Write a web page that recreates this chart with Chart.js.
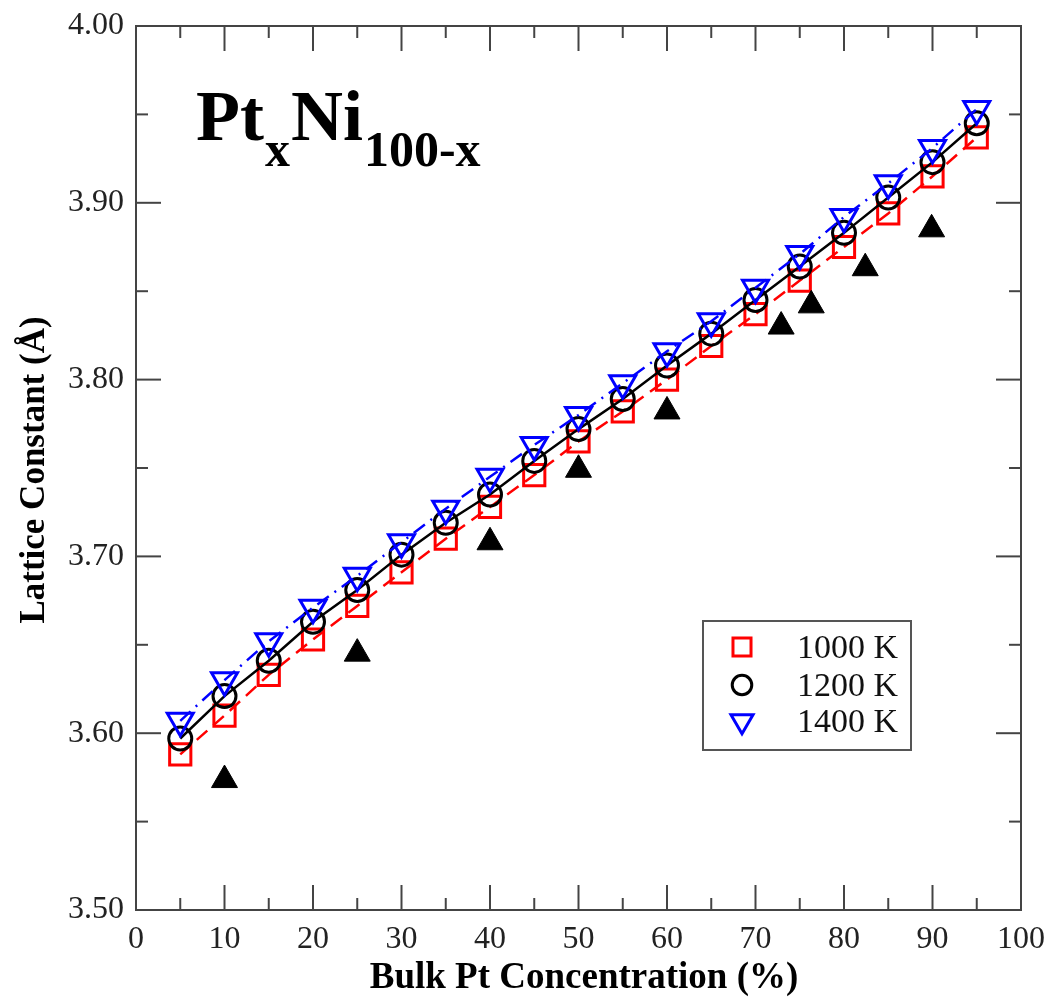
<!DOCTYPE html>
<html>
<head>
<meta charset="utf-8">
<script src="https://cdn.jsdelivr.net/npm/chart.js@4.4.1/dist/chart.umd.min.js"></script>
<style>
html, body { margin: 0; padding: 0; background: #fff; }
</style>
</head>
<body>
<canvas id="grafico" width="1052" height="998"></canvas>
<script>
// Pt concentration (%) for the simulated points
const concentracion = [5, 10, 15, 20, 25, 30, 35, 40, 45, 50, 55, 60, 65, 70, 75, 80, 85, 90, 95];
const k1000 = [3.588, 3.610, 3.633, 3.653, 3.672, 3.691, 3.710, 3.728, 3.746, 3.765, 3.782, 3.800, 3.819, 3.837, 3.856, 3.875, 3.894, 3.915, 3.937];
const k1200 = [3.597, 3.621, 3.641, 3.663, 3.681, 3.701, 3.719, 3.735, 3.754, 3.772, 3.789, 3.808, 3.826, 3.845, 3.864, 3.883, 3.903, 3.923, 3.945];
const k1400 = [3.607, 3.630, 3.652, 3.671, 3.689, 3.708, 3.727, 3.745, 3.763, 3.780, 3.798, 3.816, 3.833, 3.852, 3.871, 3.892, 3.911, 3.931, 3.953];
// experimental values (filled triangles)
const expX = [10, 25, 40, 50, 60, 72.9, 76.3, 82.4, 89.9];
const expY = [3.5735, 3.645, 3.708, 3.749, 3.782, 3.830, 3.842, 3.863, 3.885];
// tick labels
const xTicks = [0, 10, 20, 30, 40, 50, 60, 70, 80, 90, 100];
const yTicks = ['3.50', '3.60', '3.70', '3.80', '3.90', '4.00'];
const leyenda = ['1000 K', '1200 K', '1400 K'];

const serif = '"Liberation Serif", "Times New Roman", serif';
const pts = (xs, ys) => xs.map((v, i) => ({ x: v, y: ys[i] }));

function linea(ctx, x1, y1, x2, y2) {
    ctx.beginPath(); ctx.moveTo(x1, y1); ctx.lineTo(x2, y2); ctx.stroke();
}

const marco = {
    id: 'marco',
    afterDraw(chart) {
        const { ctx, chartArea: a, scales: { x, y } } = chart;
        ctx.save();
        ctx.strokeStyle = '#444';
        ctx.lineWidth = 2;
        ctx.strokeRect(a.left, a.top, a.right - a.left, a.bottom - a.top);
        // inward ticks on all four sides
        for (let i = 0; i <= 20; i++) {
            const px = x.getPixelForValue(xTicks[0] + i * 5);
            const len = i % 2 === 0 ? 25 : 12;
            linea(ctx, px, a.bottom, px, a.bottom - len);
            linea(ctx, px, a.top, px, a.top + len);
        }
        for (let i = 0; i <= 10; i++) {
            const py = y.getPixelForValue(parseFloat(yTicks[0]) + i * 0.05);
            const len = i % 2 === 0 ? 25 : 12;
            linea(ctx, a.left, py, a.left + len, py);
            linea(ctx, a.right, py, a.right - len, py);
        }

        // axis titles
        ctx.fillStyle = '#000';
        ctx.textAlign = 'center';
        ctx.textBaseline = 'alphabetic';
        ctx.font = 'bold 37px ' + serif;
        ctx.fillText('Bulk Pt Concentration (%)', 584, 988);
        ctx.save();
        ctx.translate(44, 470);
        ctx.rotate(-Math.PI / 2);
        ctx.font = 'bold 35px ' + serif;
        ctx.fillText('Lattice Constant (Å)', 0, 0);
        ctx.restore();

        // PtxNi100-x label
        ctx.textAlign = 'left';
        let cx = 196;
        const partes = [['Pt', 72, 140], ['x', 50, 166], ['Ni', 72, 140], ['100-x', 50, 166]];
        partes.forEach(([t, s, b]) => {
            ctx.font = 'bold ' + s + 'px ' + serif;
            ctx.fillText(t, cx, b);
            cx += ctx.measureText(t).width + 1;
        });

        // legend box
        ctx.strokeStyle = '#555';
        ctx.lineWidth = 2;
        ctx.strokeRect(703, 621, 208, 129);
        ctx.font = '34px ' + serif;
        ctx.fillStyle = '#111';
        const ds = chart.data.datasets;
        const filas = [647, 685, 721];
        leyenda.forEach((t, i) => {
            const d = ds[i];
            ctx.strokeStyle = d.borderColor;
            ctx.fillStyle = 'rgba(0,0,0,0)';
            ctx.lineWidth = d.pointBorderWidth;
            Chart.helpers.drawPoint(ctx, {
                pointStyle: d.pointStyle, radius: d.pointRadius * 0.85,
                rotation: d.pointRotation || 0, borderWidth: d.pointBorderWidth
            }, 742, filas[i]);
            ctx.fillStyle = '#111';
            ctx.fillText(t, 797, filas[i] + 11);
        });
        ctx.restore();
    }
};

const ctx = document.getElementById('grafico').getContext('2d');
const chart = new Chart(ctx, {
    type: 'scatter',
    data: {
        datasets: [
            {
                label: leyenda[0],
                data: pts(concentracion, k1000),
                showLine: true,
                borderColor: '#ff0000',
                backgroundColor: 'rgba(0,0,0,0)',
                borderWidth: 2.5,
                borderDash: [14, 8],
                pointStyle: 'rect',
                pointRadius: 15,
                pointBorderWidth: 3,
                pointBackgroundColor: 'rgba(0,0,0,0)',
                order: 3
            },
            {
                label: leyenda[1],
                data: pts(concentracion, k1200),
                showLine: true,
                borderColor: '#000000',
                backgroundColor: 'rgba(0,0,0,0)',
                borderWidth: 2.5,
                pointStyle: 'circle',
                pointRadius: 11.5,
                pointBorderWidth: 3,
                pointBackgroundColor: 'rgba(0,0,0,0)',
                order: 2
            },
            {
                label: leyenda[2],
                data: pts(concentracion, k1400),
                showLine: true,
                borderColor: '#0000ff',
                backgroundColor: 'rgba(0,0,0,0)',
                borderWidth: 2.5,
                borderDash: [14, 7, 2, 7],
                pointStyle: 'triangle',
                pointRotation: 180,
                pointRadius: 15,
                pointBorderWidth: 3,
                pointBackgroundColor: 'rgba(0,0,0,0)',
                order: 1
            },
            {
                label: 'Exp.',
                data: pts(expX, expY),
                showLine: false,
                borderColor: '#000',
                backgroundColor: '#000',
                pointStyle: 'triangle',
                pointRadius: 15,
                pointBorderWidth: 1,
                pointBackgroundColor: '#000',
                order: 0
            }
        ]
    },
    options: {
        responsive: false,
        animation: false,
        devicePixelRatio: 1,
        layout: { padding: { top: 26, right: 31, bottom: 0, left: 0 } },
        plugins: { legend: { display: false }, tooltip: { enabled: false } },
        elements: { line: { tension: 0 } },
        scales: {
            x: {
                type: 'linear',
                min: xTicks[0],
                max: xTicks[xTicks.length - 1],
                afterFit: s => { s.height = 88; s.paddingLeft = 0; s.paddingRight = 0; },
                grid: { display: false, drawTicks: false },
                border: { display: false },
                ticks: {
                    stepSize: 10, padding: 10, color: '#222',
                    font: { family: serif, size: 32 },
                    callback: v => xTicks.includes(v) ? String(v) : ''
                }
            },
            y: {
                type: 'linear',
                min: parseFloat(yTicks[0]),
                max: parseFloat(yTicks[yTicks.length - 1]),
                afterFit: s => { s.width = 136; s.paddingTop = 0; s.paddingBottom = 0; },
                grid: { display: false, drawTicks: false },
                border: { display: false },
                ticks: {
                    stepSize: 0.1, padding: 12, color: '#222',
                    font: { family: serif, size: 32 },
                    callback: v => yTicks.find(t => Math.abs(parseFloat(t) - v) < 1e-6) || ''
                }
            }
        }
    },
    plugins: [marco]
});
</script>
</body>
</html>
